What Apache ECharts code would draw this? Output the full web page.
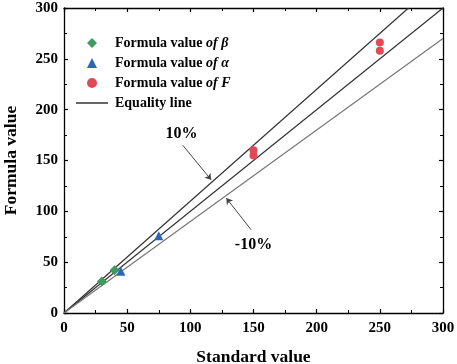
<!DOCTYPE html>
<html>
<head>
<meta charset="utf-8">
<script src="https://cdn.jsdelivr.net/npm/echarts@6/dist/echarts.min.js"></script>
<style>
  html, body { margin: 0; padding: 0; background: #fff; }
  #main { width: 457px; height: 364px; }
</style>
</head>
<body>
<div id="main"></div>
<script>
// data
var axisTicks = [0, 50, 100, 150, 200, 250, 300];
var betaX = [30, 40];
var betaY = [31, 42];
var alphaX = [45, 75];
var alphaY = [41, 76];
var fX = [150, 150, 250, 250];
var fY = [160, 155, 266, 258];
// equality line and +/-10% lines
var equalLine = [[0, 0], [300, 300]];
var plusLine = [[0, 0], [272.7, 300]];
var minusLine = [[0, 0], [300, 270]];
// annotation labels and arrows (data units)
var noteText = ['10%', '-10%'];
var notePos = [[93, 176], [150, 67]];
var noteArrows = [
  [[94, 165], [116.5, 131]],
  [[148, 82], [128.5, 113]]
];

var font = 'Liberation Serif';
var myChart = echarts.init(document.getElementById('main'));

function pairs(xs, ys) {
  return xs.map(function (x, i) { return [x, ys[i]]; });
}

var axisCommon = {
  type: 'value',
  min: axisTicks[0],
  max: axisTicks[axisTicks.length - 1],
  interval: 50,
  axisLine: { show: true, onZero: false, lineStyle: { color: '#000', width: 1.3 } },
  axisTick: { show: true, inside: true, length: 4, lineStyle: { color: '#000', width: 1.2 } },
  minorTick: { show: true, splitNumber: 2, length: 3, lineStyle: { color: '#000', width: 1 } },
  splitLine: { show: false },
  axisLabel: { color: '#000', fontFamily: font, fontWeight: 'bold', fontSize: 15 }
};

var legendText = {
  color: '#000',
  fontFamily: font,
  fontWeight: 'bold',
  fontSize: 14,
  rich: {
    s: { width: 13 },
    t: { width: 2 },
    i: { fontFamily: font, fontWeight: 'bold', fontStyle: 'italic', fontSize: 14, color: '#000' }
  }
};

var option = {
  animation: false,
  backgroundColor: '#fff',
  grid: { left: 64, right: 14, top: 8, bottom: 51, outerBoundsMode: 'none' },
  legend: [
    {
      orient: 'vertical',
      left: 82,
      top: 31,
      itemWidth: 10,
      itemHeight: 10,
      itemGap: 6,
      data: [
        { name: 'beta', icon: 'diamond' },
        { name: 'alpha', icon: 'triangle' },
        { name: 'F', icon: 'circle' }
      ],
      formatter: function (name) {
        if (name === 'beta') return '{s|}Formula value {i|of \u03b2}';
        if (name === 'alpha') return '{s|}Formula value {i|of \u03b1}';
        return '{s|}Formula value {i|of F}';
      },
      textStyle: legendText
    },
    {
      left: 71,
      top: 91,
      itemWidth: 32,
      itemHeight: 1.5,
      data: [{ name: 'Equality line', icon: 'rect' }],
      formatter: '{t|}{name}',
      textStyle: legendText
    }
  ],
  xAxis: [
    Object.assign({}, axisCommon, {
      position: 'bottom',
      name: 'Standard value',
      nameLocation: 'middle',
      nameGap: 35,
      nameTextStyle: { color: '#000', fontFamily: font, fontWeight: 'bold', fontSize: 17.5 },
      axisLabel: Object.assign({}, axisCommon.axisLabel, { margin: 8 })
    }),
    Object.assign({}, axisCommon, { position: 'top', axisLabel: { show: false } })
  ],
  yAxis: [
    Object.assign({}, axisCommon, {
      position: 'left',
      name: 'Formula value',
      nameLocation: 'middle',
      nameGap: 44,
      nameTextStyle: { color: '#000', fontFamily: font, fontWeight: 'bold', fontSize: 17.5 },
      axisLabel: Object.assign({}, axisCommon.axisLabel, { margin: 6 })
    }),
    Object.assign({}, axisCommon, { position: 'right', axisLabel: { show: false } })
  ],
  series: [
    {
      name: 'Equality line',
      type: 'line',
      data: equalLine,
      symbol: 'none',
      lineStyle: { color: '#333', width: 1.2 },
      itemStyle: { color: '#333' },
      z: 1
    },
    {
      name: '+10%',
      type: 'line',
      data: plusLine,
      symbol: 'none',
      lineStyle: { color: '#333', width: 1.2 },
      z: 1
    },
    {
      name: '-10%',
      type: 'line',
      data: minusLine,
      symbol: 'none',
      lineStyle: { color: '#777', width: 1.2 },
      z: 1
    },
    {
      name: 'beta',
      type: 'scatter',
      data: pairs(betaX, betaY),
      symbol: 'diamond',
      symbolSize: 10,
      itemStyle: { color: '#3d9b5e', opacity: 1 },
      z: 3
    },
    {
      name: 'alpha',
      type: 'scatter',
      data: pairs(alphaX, alphaY),
      symbol: 'triangle',
      symbolSize: 9,
      itemStyle: { color: '#2c66b4', opacity: 1 },
      z: 3
    },
    {
      name: 'F',
      type: 'scatter',
      data: pairs(fX, fY),
      symbol: 'circle',
      symbolSize: 8,
      itemStyle: { color: '#e04a57', opacity: 1 },
      z: 3
    },
    {
      name: 'arrows',
      type: 'lines',
      coordinateSystem: 'cartesian2d',
      symbol: ['none', 'arrow'],
      symbolSize: 6,
      lineStyle: { color: '#444', width: 1, opacity: 1 },
      data: noteArrows.map(function (c) { return { coords: c }; }),
      z: 4
    },
    {
      name: 'notes',
      type: 'scatter',
      symbolSize: 0,
      silent: true,
      itemStyle: { opacity: 1 },
      data: notePos.map(function (p, i) { return { value: p, name: noteText[i] }; }),
      label: {
        show: true,
        position: 'inside',
        formatter: '{b}',
        color: '#000',
        fontFamily: font,
        fontWeight: 'bold',
        fontSize: 16
      },
      z: 4
    }
  ]
};

myChart.setOption(option);
</script>
</body>
</html>
